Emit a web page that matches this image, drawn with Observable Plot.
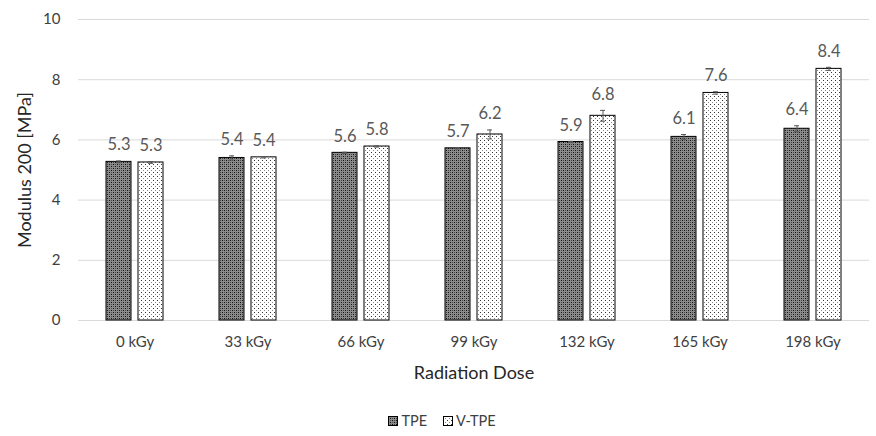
<!DOCTYPE html>
<html>
<head>
<meta charset="utf-8">
<script src="https://cdn.jsdelivr.net/npm/d3@7"></script>
<script src="https://cdn.jsdelivr.net/npm/@observablehq/plot@0.6"></script>
<style>
  body { margin: 0; background: #fff; font-family: Lato, "Open Sans", sans-serif; }
  #chart svg { display: block; }
  .legend { display: flex; justify-content: center; gap: 16px; font-size: 14.5px; color: #404040; height: 31px; align-items: center; padding-left: 8px; }
  .legend span { display: inline-flex; align-items: center; gap: 3px; }
</style>
</head>
<body>
<div id="chart"></div>
<div class="legend" id="legend"></div>
<script>
const doses = ["0 kGy", "33 kGy", "66 kGy", "99 kGy", "132 kGy", "165 kGy", "198 kGy"];
const series = ["TPE", "V-TPE"];
const tpeValues = [5.27, 5.40, 5.57, 5.72, 5.93, 6.10, 6.37];
const tpeErrors = [0.03, 0.07, 0.02, 0.02, 0.02, 0.08, 0.10];
const vtpeValues = [5.25, 5.42, 5.78, 6.18, 6.80, 7.56, 8.36];
const vtpeErrors = [0.03, 0.02, 0.02, 0.15, 0.18, 0.04, 0.05];
const yTicks = [0, 2, 4, 6, 8, 10];

const data = [];
doses.forEach((d, i) => {
  data.push({dose: d, series: "TPE", value: tpeValues[i], err: tpeErrors[i]});
  data.push({dose: d, series: "V-TPE", value: vtpeValues[i], err: vtpeErrors[i]});
});

const plot = Plot.plot({
  width: 876,
  height: 405,
  marginLeft: 77,
  marginRight: 6,
  marginTop: 19,
  marginBottom: 85,
  style: {fontFamily: "Lato, 'Open Sans', sans-serif", fontSize: "15px", color: "#404040", background: "#fff"},
  facet: {data, x: "dose"},
  fx: {domain: doses, padding: 0, tickSize: 0, tickPadding: 16, label: "Radiation Dose", labelAnchor: "center", labelOffset: 58, axis: "bottom"},
  x: {domain: series, paddingInner: 0.21, paddingOuter: 0.82, axis: null},
  y: {domain: [0, 10], ticks: yTicks, tickSize: 0, tickPadding: 18, label: "Modulus 200 [MPa]", labelAnchor: "center", labelOffset: 60, line: false},
  color: {domain: series, range: ["url(#pat-tpe)", "url(#pat-vtpe)"]},
  marks: [
    Plot.ruleY(yTicks, {stroke: "#d9d9d9", strokeWidth: 1}),
    Plot.barY(data, {x: "series", y: "value", fill: "series", stroke: "#000", strokeWidth: 1}),
    Plot.ruleX(data, {x: "series", y1: d => d.value - d.err, y2: d => d.value + d.err, stroke: "#595959", strokeWidth: 1}),
    Plot.tickY(data, {x: "series", y: d => d.value + d.err, stroke: "#595959", strokeWidth: 1, insetLeft: 10, insetRight: 10}),
    Plot.tickY(data, {x: "series", y: d => d.value - d.err, stroke: "#595959", strokeWidth: 1, insetLeft: 10, insetRight: 10}),
    Plot.text(data, {x: "series", y: d => d.value + d.err, text: d => d.value.toFixed(1), dy: -16, fontSize: 16.5, fill: "#595959"})
  ]
});

const svgEl = plot.tagName.toLowerCase() === "svg" ? plot : plot.querySelector("svg");
const defs = d3.select(svgEl).insert("defs", ":first-child");
const p1 = defs.append("pattern").attr("id", "pat-tpe").attr("patternUnits", "userSpaceOnUse").attr("width", 4).attr("height", 4);
p1.append("rect").attr("width", 4).attr("height", 4).attr("fill", "#8c8c8c");
p1.append("rect").attr("x", 0).attr("y", 0).attr("width", 1).attr("height", 1).attr("fill", "#111");
p1.append("rect").attr("x", 2).attr("y", 2).attr("width", 1).attr("height", 1).attr("fill", "#111");
p1.append("rect").attr("x", 2).attr("y", 0).attr("width", 1).attr("height", 1).attr("fill", "#4a4a4a");
p1.append("rect").attr("x", 0).attr("y", 2).attr("width", 1).attr("height", 1).attr("fill", "#4a4a4a");
const p2 = defs.append("pattern").attr("id", "pat-vtpe").attr("patternUnits", "userSpaceOnUse").attr("width", 4).attr("height", 4);
p2.append("rect").attr("width", 4).attr("height", 4).attr("fill", "#fff");
p2.append("rect").attr("x", 0).attr("y", 0).attr("width", 1).attr("height", 1).attr("fill", "#333");
p2.append("rect").attr("x", 2).attr("y", 2).attr("width", 1).attr("height", 1).attr("fill", "#888");

// axis labels: remove arrows, set size/colour
d3.select(svgEl).selectAll("text").each(function() {
  const t = this.textContent;
  if (t.startsWith("Modulus 200") || t.startsWith("Radiation Dose")) {
    const clean = t.replace(/\s*[↑→←↓]\s*/g, "").trim();
    d3.select(this).text(clean).attr("fill", "#262626").style("font-size", "18px");
  }
});

document.getElementById("chart").appendChild(plot);

const legend = d3.select("#legend");
series.forEach((s, i) => {
  const item = legend.append("span");
  const sw = item.append("svg").attr("width", 10).attr("height", 10);
  sw.append("rect").attr("x", 0.5).attr("y", 0.5).attr("width", 9).attr("height", 9)
    .attr("fill", i === 0 ? "url(#pat-tpe)" : "url(#pat-vtpe)").attr("stroke", "#000").attr("stroke-width", 1);
  item.append("span").text(s);
});
</script>
</body>
</html>
